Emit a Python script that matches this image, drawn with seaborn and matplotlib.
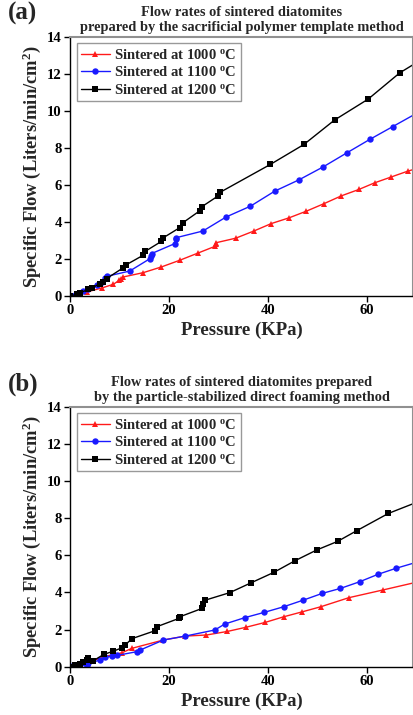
import matplotlib
matplotlib.use("Agg")
import matplotlib.pyplot as plt
import seaborn as sns
import pandas as pd
import numpy as np

# ---------------- data: panel (a) sacrificial polymer template ----------------
a_x_1000 = [0, 1.7, 3.4, 6.4, 8.75, 10.0, 10.4, 10.8, 14.8, 18.5, 22.2, 25.9, 29.3, 29.5, 29.6,
            33.5, 37.2, 40.7, 44.3, 47.8, 51.4, 54.9, 58.4, 61.6, 65.0, 68.3, 71.0]
a_y_1000 = [0, 0.07, 0.22, 0.43, 0.63, 0.85, 0.94, 1.03, 1.26, 1.57, 1.93, 2.32, 2.68, 2.83, 2.88,
            3.12, 3.51, 3.91, 4.22, 4.58, 4.99, 5.41, 5.75, 6.11, 6.43, 6.74, 6.95]
a_x_1100 = [0, 1.0, 2.7, 3.7, 5.4, 6.4, 7.1, 7.4, 12.1, 16.2, 16.3, 16.5, 21.2, 21.4, 21.5,
            26.9, 31.6, 36.5, 41.4, 46.3, 51.2, 56.0, 60.6, 65.3, 71.0]
a_y_1100 = [0, 0.07, 0.25, 0.36, 0.58, 0.76, 0.99, 1.06, 1.35, 2.02, 2.16, 2.29, 2.83, 3.06, 3.15,
            3.51, 4.27, 4.85, 5.66, 6.27, 6.97, 7.73, 8.45, 9.15, 10.0]
a_x_1200 = [0, 1.35, 2.0, 3.7, 4.4, 6.06, 6.7, 7.4, 10.8, 11.4, 14.8, 15.2, 18.5, 18.9, 22.2, 22.8,
            26.3, 26.6, 30.0, 30.3, 40.5, 47.3, 53.5, 60.3, 66.7, 71.0]
a_y_1200 = [0, 0.09, 0.16, 0.36, 0.43, 0.67, 0.76, 0.94, 1.53, 1.69, 2.20, 2.41, 2.95, 3.15, 3.69, 3.95,
            4.61, 4.81, 5.41, 5.59, 7.10, 8.18, 9.50, 10.63, 12.05, 12.75]

# ---------------- data: panel (b) particle-stabilized direct foaming ----------------
b_x_1000 = [0, 1.7, 3.7, 4.7, 6.8, 10.5, 12.5, 18.9, 23.3, 27.6, 31.8, 35.5, 39.5, 43.2, 47.0,
            50.7, 56.4, 63.2, 71.0]
b_y_1000 = [0.05, 0.09, 0.22, 0.32, 0.54, 0.75, 0.99, 1.44, 1.65, 1.71, 1.90, 2.12, 2.39, 2.69, 2.96,
            3.23, 3.72, 4.13, 4.61]
b_x_1100 = [0, 1.0, 3.4, 3.7, 6.1, 7.1, 8.4, 9.5, 13.5, 14.2, 18.9, 23.3, 29.3, 31.3, 35.3, 39.3,
            43.2, 47.2, 51.0, 54.7, 58.6, 62.3, 65.9, 71.0]
b_y_1100 = [0.05, 0.09, 0.05, 0.18, 0.36, 0.50, 0.57, 0.61, 0.81, 0.90, 1.44, 1.65, 1.98, 2.30, 2.64, 2.93,
            3.23, 3.59, 3.95, 4.22, 4.58, 4.98, 5.30, 5.70]
b_x_1200 = [0, 1.0, 2.0, 2.7, 3.4, 3.7, 4.7, 6.8, 8.8, 10.5, 11.1, 12.5, 17.2, 17.6, 22.0, 22.2,
            26.7, 26.9, 27.4, 32.3, 36.7, 41.2, 45.5, 49.9, 54.1, 58.0, 64.4, 71.0]
b_y_1200 = [0, 0.09, 0.14, 0.27, 0.36, 0.45, 0.32, 0.66, 0.84, 1.02, 1.15, 1.51, 1.94, 2.16, 2.60, 2.69,
            3.14, 3.38, 3.59, 3.99, 4.53, 5.08, 5.71, 6.29, 6.75, 7.33, 8.26, 8.95]

labels = ["Sintered at 1000 $^\\mathregular{o}$C", "Sintered at 1100 $^\\mathregular{o}$C",
          "Sintered at 1200 $^\\mathregular{o}$C"]
colors = ["#ff1a1a", "#1a1aff", "#000000"]
markers = ["^", "o", "s"]

title_a = "Flow rates of sintered diatomites\nprepared by the sacrificial polymer template method"
title_b = "Flow rates of sintered diatomites prepared\nby the particle-stabilized direct foaming method"
x_ticks = [0, 20, 40, 60]
y_ticks = [0, 2, 4, 6, 8, 10, 12, 14]


def make_df(xs, ys):
    frames = []
    for lab, x, y in zip(labels, xs, ys):
        frames.append(pd.DataFrame({"x": x, "y": y, "series": lab}))
    return pd.concat(frames, ignore_index=True)


sns.set_theme(style="white")
plt.rcParams["font.family"] = ["Liberation Serif", "DejaVu Serif"]
plt.rcParams["mathtext.fontset"] = "custom"
plt.rcParams["mathtext.rm"] = "Liberation Serif:bold"
plt.rcParams["mathtext.it"] = "Liberation Serif:bold"
plt.rcParams["mathtext.bf"] = "Liberation Serif:bold"

fig = plt.figure(figsize=(4.14, 7.15), dpi=100)
ax_a = fig.add_axes([0.169, 0.586, 0.829, 0.3627])
ax_b = fig.add_axes([0.169, 0.0675, 0.829, 0.3635])

panels = [
    (ax_a, make_df([a_x_1000, a_x_1100, a_x_1200], [a_y_1000, a_y_1100, a_y_1200]), title_a, "(a)"),
    (ax_b, make_df([b_x_1000, b_x_1100, b_x_1200], [b_y_1000, b_y_1100, b_y_1200]), title_b, "(b)"),
]

for ax, df, title, tag in panels:
    sns.lineplot(data=df, x="x", y="y", hue="series", style="series", markers=markers,
                 dashes=False, palette=colors, hue_order=labels, style_order=labels,
                 sort=False, estimator=None,
                 markersize=4.6, linewidth=1.0, markeredgewidth=0, ax=ax)
    ax.set_xlim(0, 69.4)
    ax.set_ylim(0, 14)
    ax.set_xticks(x_ticks)
    ax.set_yticks(y_ticks)
    ax.tick_params(axis="both", direction="out", length=4, width=1, labelsize=10.5,
                   bottom=True, left=True, pad=2, colors="black")
    for t in ax.get_xticklabels() + ax.get_yticklabels():
        t.set_fontweight("bold")
    ax.set_xlabel("Pressure (KPa)", fontsize=13.5, fontweight="bold", labelpad=3)
    ax.set_ylabel("Specific Flow (Liters/min/cm$^\\mathregular{2}$)", fontsize=13.3,
                  fontweight="bold", labelpad=3)
    ax.set_title(title, fontsize=10.4, fontweight="bold", pad=4, linespacing=1.25)
    for side in ["left", "bottom"]:
        ax.spines[side].set_color("black")
        ax.spines[side].set_linewidth(1.0)
    for side in ["top", "right"]:
        ax.spines[side].set_color("#909090")
        ax.spines[side].set_linewidth(1.5)
    leg = ax.legend(loc="upper left", frameon=True, fancybox=False,
                    edgecolor="#808080", borderpad=0.3, labelspacing=0.25,
                    handlelength=2.0, handletextpad=0.3, borderaxespad=0.45,
                    prop={"weight": "bold", "size": 10.5})
    leg.get_frame().set_linewidth(1.0)
    fig.text(0.018, ax.get_position().y1 + 0.032, tag, fontsize=18, fontweight="bold",
             ha="left", va="center")

fig.savefig("out.png", dpi=100)
